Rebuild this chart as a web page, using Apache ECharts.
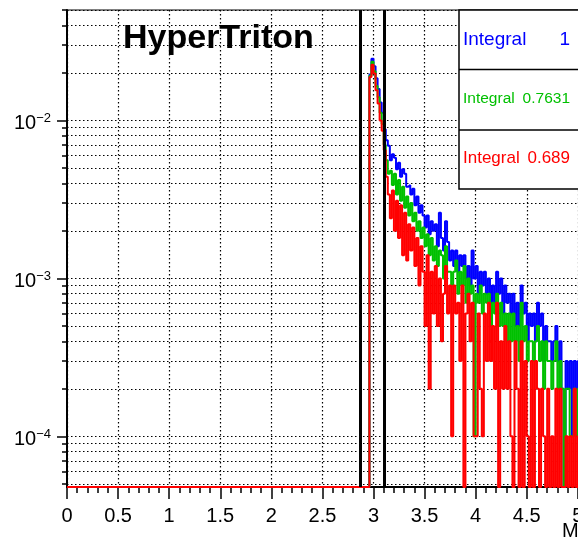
<!DOCTYPE html>
<html>
<head>
<meta charset="utf-8">
<script src="https://cdn.jsdelivr.net/npm/echarts@6/dist/echarts.min.js"></script>
<style>
html,body{margin:0;padding:0;background:#fff;}
#c{width:578px;height:541px;}
</style>
</head>
<body>
<div id="c"></div>
<script>
// ---- data ----
const BIN_START = 2.96;
const BIN_WIDTH = 0.02;
const X_MIN = 0, X_MAX = 6;
const Y_MIN = 4.78e-5, Y_MAX = 0.05;

const blueValues = [
 1.95e-2, 2.46e-2, 2.2e-2, 1.85e-2, 1.58e-2, 1.3e-2, 1.12e-2, 8.8e-3, 7.5e-3, 6.9e-3,
 5.6e-3, 6.1e-3, 5.8e-3, 4.9e-3, 5.4e-3, 4.4e-3, 4.9e-3, 4.6e-3, 3.8e-3, 3.9e-3,
 3.4e-3, 3.7e-3, 2.9e-3, 3.3e-3, 2.6e-3, 2.9e-3, 2.5e-3, 2.1e-3, 2.5e-3, 1.9e-3,
 2.3e-3, 2.0e-3, 2.2e-3, 1.6e-3, 2.6e-3, 1.8e-3, 1.5e-3, 2.3e-3, 1.7e-3, 1.3e-3,
 1.5e-3, 1.2e-3, 1.5e-3, 1.1e-3, 1.4e-3, 1.2e-3, 1.4e-3, 1.0e-3, 1.2e-3, 9e-4,
 1.5e-3, 1.0e-3, 1.2e-3, 8e-4, 1.1e-3, 9e-4, 1.1e-3, 8e-4, 1.0e-3, 7e-4,
 9e-4, 7e-4, 1.1e-3, 8e-4, 1.0e-3, 6e-4, 9e-4, 7e-4, 8e-4, 6e-4,
 8e-4, 5e-4, 7e-4, 5e-4, 9e-4, 6e-4, 7e-4, 4e-4, 6e-4, 5e-4,
 6e-4, 4e-4, 7e-4, 5e-4, 6e-4, 3e-4, 5e-4, 4e-4, 4e-4, 3e-4,
 4e-4, 5e-4, 3e-4, 4e-4, 2e-4, 0, 3e-4, 2e-4, 3e-4, 1e-4,
 3e-4, 2e-4, 3e-4, 1e-4, 2e-4
];
const greenValues = [
 1.92e-2, 2.35e-2, 2.05e-2, 1.65e-2, 1.4e-2, 1.12e-2, 9.5e-3, 7.0e-3, 5.6e-3, 4.6e-3,
 4.8e-3, 3.9e-3, 4.6e-3, 3.4e-3, 4.2e-3, 3.1e-3, 3.8e-3, 2.8e-3, 3.3e-3, 2.5e-3,
 3.0e-3, 2.3e-3, 2.6e-3, 2.0e-3, 2.3e-3, 1.8e-3, 2.1e-3, 1.6e-3, 1.9e-3, 1.4e-3,
 1.8e-3, 1.3e-3, 1.6e-3, 1.2e-3, 1.5e-3, 1.4e-3, 1.0e-3, 1.6e-3, 1.1e-3, 1.1e-3,
 9e-4, 1.1e-3, 1.3e-3, 8e-4, 1.1e-3, 9e-4, 1.2e-3, 7e-4, 1.0e-3, 8e-4,
 9e-4, 1e-4, 8e-4, 7e-4, 9e-4, 6e-4, 8e-4, 7e-4, 8e-4, 5e-4,
 7e-4, 6e-4, 8e-4, 5e-4, 7e-4, 5e-4, 6e-4, 4e-4, 6e-4, 4e-4,
 6e-4, 4e-4, 5e-4, 3e-4, 7e-4, 4e-4, 5e-4, 3e-4, 4e-4, 4e-4,
 3e-4, 4e-4, 5e-4, 3e-4, 4e-4, 2e-4, 4e-4, 3e-4, 3e-4, 2e-4,
 3e-4, 4e-4, 2e-4, 3e-4, 2e-4, 0, 2e-4, 2e-4, 1e-4, 1e-4,
 2e-4, 1e-4, 2e-4, 1e-4, 1e-4
];
const redValues = [
 1.88e-2, 2.25e-2, 1.98e-2, 1.55e-2, 1.28e-2, 1.0e-2, 8.6e-3, 6.5e-3, 4.4e-3, 3.4e-3,
 2.4e-3, 3.6e-3, 2.0e-3, 3.1e-3, 1.8e-3, 2.9e-3, 1.4e-3, 2.6e-3, 1.3e-3, 2.2e-3,
 1.5e-3, 2.1e-3, 1.2e-3, 1.8e-3, 9e-4, 1.6e-3, 1.1e-3, 5e-4, 1.4e-3, 2e-4,
 1.1e-3, 6e-4, 1.2e-3, 5e-4, 1.0e-3, 4e-4, 8e-4, 1.2e-3, 6e-4, 9e-4,
 1e-4, 9e-4, 6e-4, 7e-4, 3e-4, 9e-4, 0, 6e-4, 8e-4, 4e-4,
 7e-4, 1e-4, 1e-4, 6e-4, 2e-4, 1e-4, 6e-4, 3e-4, 7e-4, 3e-4,
 5e-4, 2e-4, 7e-4, 0, 4e-4, 2e-4, 5e-4, 2e-4, 4e-4, 1e-4,
 0, 4e-4, 2e-4, 0, 4e-4, 0, 3e-4, 1e-4, 0, 3e-4,
 0, 3e-4, 2e-4, 0, 2e-4, 1e-4, 0, 2e-4, 0, 1e-4,
 0, 2e-4, 0, 2e-4, 0, 0, 1e-4, 0, 1e-4, 0,
 2e-4, 0, 1e-4, 0, 1e-4
];

const yMajorTicks = [1e-4, 1e-3, 1e-2];
const yMinorTicks = [5e-5, 6e-5, 7e-5, 8e-5, 9e-5,
  2e-4, 3e-4, 4e-4, 5e-4, 6e-4, 7e-4, 8e-4, 9e-4,
  2e-3, 3e-3, 4e-3, 5e-3, 6e-3, 7e-3, 8e-3, 9e-3,
  2e-2, 3e-2, 4e-2, 5e-2];
const cutLines = [2.87, 3.11];

const titleText = 'HyperTriton';
const xAxisTitle = 'Mass (GeV/c\u00B2)';
const statLabels = ['Integral', 'Integral', 'Integral'];
const statValues = ['1', '0.7631', '0.689'];
const seriesColors = ['#0000ff', '#00c000', '#ff0000'];

// ---- chart ----
const FONT = '"Liberation Sans", Arial, Helvetica, sans-serif';
const chart = echarts.init(document.getElementById('c'), null, {renderer: 'canvas'});

function histPoints(values) {
  const pts = [[X_MIN, Y_MIN]];
  values.forEach((v, i) => pts.push([BIN_START + i * BIN_WIDTH, v > 0 ? v : Y_MIN]));
  const last = values[values.length - 1];
  pts.push([BIN_START + values.length * BIN_WIDTH, last > 0 ? last : Y_MIN]);
  return pts;
}

const dotted = {color: '#000', width: 1.2, type: [1.5, 2.5]};

function histSeries(name, values, color, extra) {
  return Object.assign({
    name: name,
    type: 'line',
    step: 'end',
    symbol: 'none',
    clip: false,
    animation: false,
    data: histPoints(values),
    lineStyle: {color: color, width: 2},
    itemStyle: {color: color},
    z: 3
  }, extra || {});
}

const statGraphics = [];
statGraphics.push({type: 'rect', z: 100, shape: {x: 459, y: 10, width: 200, height: 179},
  style: {fill: '#fff', stroke: '#000', lineWidth: 1.5}});
statGraphics.push({type: 'line', z: 101, shape: {x1: 459, y1: 69.5, x2: 660, y2: 69.5}, style: {stroke: '#000', lineWidth: 1.5}});
statGraphics.push({type: 'line', z: 101, shape: {x1: 459, y1: 130, x2: 660, y2: 130}, style: {stroke: '#000', lineWidth: 1.5}});
const statY = [39.5, 99, 158];
const statFont = [19, 15.5, 17];
statLabels.forEach((lab, i) => {
  statGraphics.push({type: 'text', z: 102, x: 463, y: statY[i],
    style: {text: lab, fill: seriesColors[i], font: statFont[i] + 'px ' + FONT, align: 'left', verticalAlign: 'middle'}});
  statGraphics.push({type: 'text', z: 102, x: 570, y: statY[i],
    style: {text: statValues[i], fill: seriesColors[i], font: statFont[i] + 'px ' + FONT, align: 'right', verticalAlign: 'middle'}});
});

const option = {
  animation: false,
  backgroundColor: '#fff',
  grid: {left: 67, top: 10, right: -102, bottom: 54, show: true, borderColor: '#000', borderWidth: 1,
         containLabel: false, outerBoundsMode: 'none'},
  xAxis: {
    type: 'value', min: X_MIN, max: X_MAX, interval: 0.5,
    axisLine: {onZero: false, lineStyle: {color: '#000', width: 2}},
    axisTick: {length: 12, lineStyle: {color: '#000', width: 1.5}},
    minorTick: {show: true, splitNumber: 5, length: 6, lineStyle: {color: '#000', width: 1.5}},
    axisLabel: {fontSize: 20, color: '#000', fontFamily: FONT, margin: 19},
    splitLine: {show: true, lineStyle: dotted}
  },
  yAxis: [
    {
      type: 'log', logBase: 10, min: Y_MIN, max: Y_MAX, position: 'left',
      axisLine: {show: true, onZero: false, lineStyle: {color: '#000', width: 2}},
      axisTick: {show: true, length: 5, customValues: yMinorTicks.concat(yMajorTicks), lineStyle: {color: '#000', width: 1.5}},
      axisLabel: {show: false},
      splitLine: {show: true, lineStyle: dotted},
      minorTick: {show: false}, minorSplitLine: {show: false}
    },
    {
      type: 'log', logBase: 10, min: Y_MIN, max: Y_MAX, position: 'left', offset: 0,
      axisLine: {show: false},
      axisTick: {show: true, length: 10, customValues: yMajorTicks, lineStyle: {color: '#000', width: 1.5}},
      axisLabel: {
        show: true, customValues: yMajorTicks, margin: 16, padding: [6, 0, 0, 0],
        formatter: function (v) {
          const e = Math.round(Math.log10(v));
          return '{b|10}{s|' + (e < 0 ? '\u2212' + (-e) : e) + '}';
        },
        rich: {
          b: {fontSize: 20, fontFamily: FONT, color: '#000', lineHeight: 22},
          s: {fontSize: 13, fontFamily: FONT, color: '#000', lineHeight: 12, verticalAlign: 'top'}
        }
      },
      splitLine: {show: false}
    }
  ],
  series: [
    histSeries('blue', blueValues, seriesColors[0]),
    histSeries('green', greenValues, seriesColors[1]),
    histSeries('red', redValues, seriesColors[2], {
      markLine: {
        silent: true, symbol: ['none', 'none'], animation: false,
        label: {show: false},
        lineStyle: {color: '#000', width: 3, type: 'solid'},
        data: cutLines.map(v => ({xAxis: v}))
      }
    })
  ],
  graphic: [
    {type: 'text', z: 50, x: 123, y: 39,
     style: {text: titleText, fill: '#000', font: 'bold 34px ' + FONT, align: 'left', verticalAlign: 'middle'}},
    {type: 'text', z: 50, x: 562, y: 531,
     style: {text: xAxisTitle, fill: '#000', font: '20px ' + FONT, align: 'left', verticalAlign: 'middle'}}
  ].concat(statGraphics)
};
chart.setOption(option);
</script>
</body>
</html>
